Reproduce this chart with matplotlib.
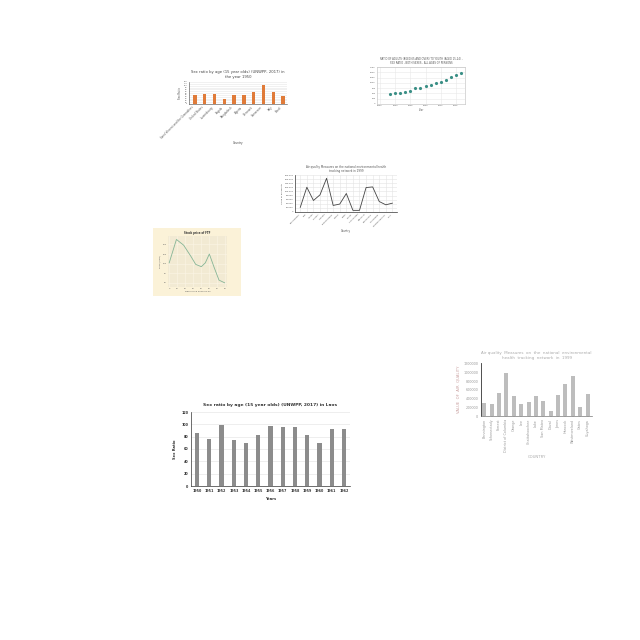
import matplotlib
matplotlib.use('Agg')
import matplotlib.pyplot as plt
from matplotlib.patches import Rectangle

W, H = 640, 640

# chart 1 - sex ratio by country, 1950
c1_countries = ['Saint Vincent and the Grenadines', 'United States', 'Luxembourg', 'Angola',
                'Bangladesh', 'Algeria', 'Denmark', 'Cameroon', 'Italy', 'Brazil']
c1_values = [49, 53, 56, 26, 48, 48, 65, 106, 67, 46]

# chart 2 - scatter by year
c2_years = list(range(2002, 2017))
c2_values = [480, 500, 515, 560, 625, 750, 780, 845, 895, 1000, 1050, 1140, 1300, 1390, 1450]

# chart 3 - air quality line
c3_countries = ['Bennington', 'Lee', 'Jones', 'Forrest', 'Orange', 'Schenectady', 'Gates',
                'Lake', 'Duval', 'San Mateo', 'Hancock', 'Cuyahoga', 'Onondaga', 'Westmoreland', 'Polk']
c3_values = [22500, 120500, 56000, 83500, 164000, 32000, 38600, 90000,
             8000, 8000, 119000, 122000, 51000, 35000, 43000]

# chart 4 - stock price
c4_days = [0, 9, 18, 27, 33, 40, 45, 50, 56, 62, 69]
c4_price = [102, 163, 148, 119, 98, 92, 102, 125, 90, 57, 50]

# chart 5 - air quality bars
c5_countries = ['Bennington', 'Schenectady', 'Forrest', 'District of Columbia', 'Orange', 'Lee',
                'Chattahoochee', 'Lake', 'San Mateo', 'Duval', 'Jones', 'Hancock',
                'Westmoreland', 'Gates', 'Cuyahoga']
c5_values = [304000, 273000, 539000, 987000, 471000, 266000, 319000, 471000,
             342000, 122000, 478000, 744000, 911000, 205000, 501000]
c5_ticks = [0, 200000, 400000, 600000, 800000, 1000000, 1200000]

# chart 6 - Laos sex ratio
c6_years = [str(y) for y in range(1950, 1963)]
c6_values = [86, 77, 99.5, 74, 70, 82, 97, 96, 96, 82, 70, 93, 92]


def rect(l, t, r, b):
    return [l / W, 1 - b / H, (r - l) / W, (b - t) / H]


fig = plt.figure(figsize=(6.4, 6.4), dpi=100)
fig.patch.set_facecolor('white')

# ---- chart 1
ax1 = fig.add_axes(rect(189, 82, 287, 104))
ax1.bar(range(len(c1_values)), c1_values, width=0.35, color='#e07b39')
ax1.set_xlim(-0.6, 9.4)
ax1.set_ylim(0, 120)
ax1.set_yticks(range(0, 121, 10))
ax1.grid(axis='y', color='#e6e6e6', lw=0.4)
ax1.set_axisbelow(True)
ax1.set_xticks(range(len(c1_countries)))
ax1.set_xticklabels(c1_countries, rotation=45, ha='right', fontsize=1.9, color='#555')
ax1.tick_params(axis='y', labelsize=1.4, length=0, pad=1, colors='#555')
ax1.tick_params(axis='x', length=0, pad=1)
for s in ['top', 'right']:
    ax1.spines[s].set_visible(False)
for s in ['left', 'bottom']:
    ax1.spines[s].set_linewidth(0.4)
    ax1.spines[s].set_color('#444')
ax1.set_ylabel('Sex Ratio', fontsize=1.8, labelpad=1, color='#444')
ax1.set_xlabel('Country', fontsize=1.9, labelpad=1, color='#444')
ax1.set_title('Sex ratio by age (15 year olds) (UNWPP, 2017) in\nthe year 1950', fontsize=2.7,
              color='#444', pad=3)

# ---- chart 2
ax2 = fig.add_axes(rect(377, 67, 465, 104))
ax2.scatter(c2_years, c2_values, s=1.6, color='#3a8f86', zorder=3)
ax2.set_xlim(1999.4, 2016.8)
ax2.set_ylim(0, 1750)
ax2.set_yticks(range(0, 1751, 250))
ax2.set_xticks(range(2000, 2017, 3))
ax2.grid(color='#e8e8e8', lw=0.4)
ax2.tick_params(labelsize=1.6, length=0, pad=1, colors='#666')
for s in ax2.spines.values():
    s.set_linewidth(0.4)
    s.set_color('#bbb')
ax2.set_xlabel('Year', fontsize=1.8, labelpad=1, color='#666')
ax2.set_title('RATIO OF ADULTS (AGED 65 AND OVER) TO YOUTH (AGED 15-24) -\nSEX RATIO - BOTH SEXES - ALL AGES OF PERSONS',
              fontsize=1.8, color='#555', pad=2)

# ---- chart 3
ax3 = fig.add_axes(rect(295, 175, 397, 212))
ax3.plot(range(len(c3_values)), c3_values, color='#444', lw=0.6)
ax3.set_xlim(-0.8, 14.7)
ax3.set_ylim(0, 180000)
ax3.set_yticks(range(0, 180001, 20000))
ax3.set_yticklabels([f'{v:,}' for v in range(0, 180001, 20000)])
ax3.set_xticks(range(len(c3_countries)))
ax3.set_xticklabels(c3_countries, rotation=45, ha='right', fontsize=1.7, color='#555')
ax3.grid(color='#e4e4e4', lw=0.4)
ax3.tick_params(axis='y', labelsize=1.6, length=0, pad=1, colors='#555')
ax3.tick_params(axis='x', length=0, pad=1)
for s in ['top', 'right']:
    ax3.spines[s].set_visible(False)
for s in ['left', 'bottom']:
    ax3.spines[s].set_linewidth(0.5)
    ax3.spines[s].set_color('#333')
ax3.set_ylabel('Value of air quality', fontsize=1.6, labelpad=1, color='#444')
ax3.set_xlabel('Country', fontsize=1.8, labelpad=2, color='#444')
ax3.set_title('Air quality Measures on the national environmental health\ntracking network in 1999',
              fontsize=2.0, color='#555', pad=2)

# ---- chart 4
fig.patches.append(Rectangle((153 / W, 1 - 296 / H), 88 / W, 68 / H, transform=fig.transFigure,
                             facecolor='#fbf2d8', edgecolor='none', zorder=-5))
ax4 = fig.add_axes(rect(168, 236, 227, 287))
ax4.set_facecolor('#f2ead3')
ax4.plot(c4_days, c4_price, color='#86b596', lw=0.6)
ax4.set_xlim(-1.5, 72)
ax4.set_ylim(39, 172)
ax4.set_xticks(range(0, 71, 10))
ax4.set_yticks([50, 75, 100, 125, 150])
ax4.grid(color='#fbf5e6', lw=0.4)
ax4.tick_params(labelsize=1.5, length=0, pad=1, colors='#666')
for s in ax4.spines.values():
    s.set_visible(False)
ax4.set_xlabel('Days since 2020-01-01', fontsize=1.6, labelpad=1, color='#555')
ax4.set_ylabel('Price (USD)', fontsize=1.6, labelpad=1, color='#555')
ax4.set_title('Stock price of FTF', fontsize=1.9, fontweight='bold', color='#333', pad=1.5)

# ---- chart 5
ax5 = fig.add_axes(rect(481, 363, 592, 416))
ax5.bar(range(len(c5_values)), c5_values, width=0.55, color='#bdbdbd')
ax5.set_xlim(-0.45, 14.6)
ax5.set_ylim(0, 1220000)
ax5.set_yticks(c5_ticks)
ax5.set_yticklabels([str(v) for v in c5_ticks])
ax5.set_xticks(range(len(c5_countries)))
ax5.set_xticklabels(c5_countries, rotation=90, fontsize=2.4, color='#999')
ax5.tick_params(axis='y', labelsize=2.4, length=0, pad=2, colors='#999')
ax5.tick_params(axis='x', length=1, width=0.3, pad=1, colors='#999')
for s in ['top', 'right']:
    ax5.spines[s].set_visible(False)
ax5.spines['left'].set_linewidth(0.6)
ax5.spines['left'].set_color('#333')
ax5.spines['bottom'].set_linewidth(0.5)
ax5.spines['bottom'].set_color('#777')
ax5.set_ylabel('VALUE  OF  AIR  QUALITY', fontsize=2.7, labelpad=2, color='#c9a0a0')
ax5.set_xlabel('COUNTRY', fontsize=2.7, labelpad=2, color='#aaa')
ax5.set_title('Air quality  Measures  on  the  national  environmental\nhealth  tracking  network  in  1999',
              fontsize=2.9, color='#aaa', pad=3)

# ---- chart 6
ax6 = fig.add_axes(rect(191, 412, 350, 486))
ax6.bar(c6_years, c6_values, width=0.35, color='#8c8c8c')
ax6.set_xlim(-0.5, 12.5)
ax6.set_ylim(0, 120)
ax6.set_yticks(range(0, 121, 20))
ax6.grid(axis='y', color='#e2e2e2', lw=0.4)
ax6.set_axisbelow(True)
ax6.tick_params(labelsize=2.4, length=0, pad=2, colors='#333')
for s in ['top', 'right']:
    ax6.spines[s].set_visible(False)
for s in ['left', 'bottom']:
    ax6.spines[s].set_linewidth(0.5)
    ax6.spines[s].set_color('#333')
for lbl in ax6.get_xticklabels() + ax6.get_yticklabels():
    lbl.set_fontweight('bold')
ax6.set_ylabel('Sex Ratio', fontsize=2.6, fontweight='bold', labelpad=3, color='#333')
ax6.set_xlabel('Years', fontsize=2.6, fontweight='bold', labelpad=3, color='#333')
ax6.set_title('Sex ratio by age (15 year olds) (UNWPP, 2017) in Laos', fontsize=3.2,
              fontweight='bold', color='#333', pad=4)

fig.savefig('out.png', dpi=100)
